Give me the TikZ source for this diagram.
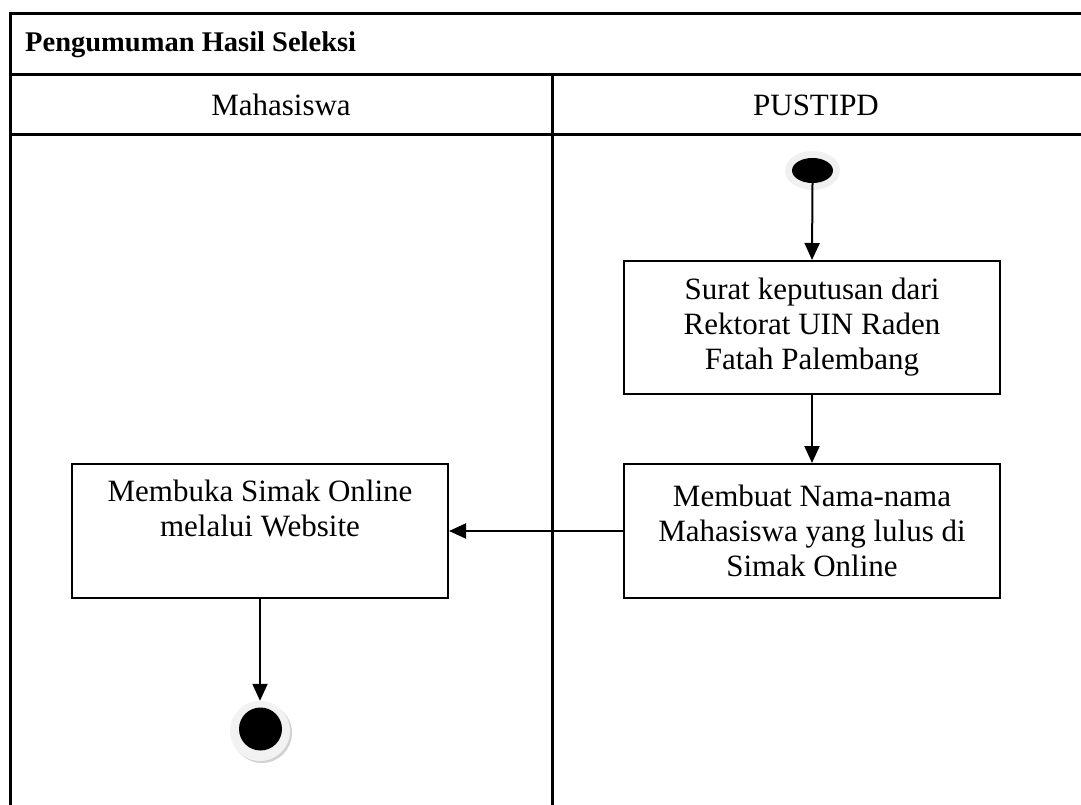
\documentclass[tikz,border=0pt]{standalone}
\usepackage{fontspec}
\setmainfont{Liberation Serif}
\usetikzlibrary{arrows.meta,shapes.geometric}
\tikzset{
  tbl/.style={line width=3pt,black},
  actbox/.style={draw,line width=2pt,rectangle,minimum width=376pt,minimum height=134pt,align=center,inner sep=0pt,font=\fontsize{31}{35}\selectfont},
  flow/.style={line width=2pt,-{Triangle[length=17pt,width=15pt]}},
  hdr/.style={font=\fontsize{31}{35}\selectfont,inner sep=0pt}
}
\begin{document}
\begin{tikzpicture}[x=1pt,y=-1pt]
\useasboundingbox (0,0) rectangle (1081,805);
% table
\draw[tbl] (10,805) -- (10,14) -- (1081,14);
\draw[tbl] (10,75) -- (1081,75);
\draw[tbl] (10,135) -- (1081,135);
\draw[tbl] (552,75) -- (552,805);
\node[font=\bfseries\fontsize{28.5}{33}\selectfont,anchor=west,inner sep=0pt] (title) at (25,45) {Pengumuman Hasil Seleksi};
\node[hdr] (h1) at (281,105) {Mahasiswa};
\node[hdr] (h2) at (816,105) {PUSTIPD};
% start
\fill[gray!12] (812.5,170.5) ellipse [x radius=27.5pt,y radius=19.5pt];
\node[ellipse,fill=black,minimum width=41pt,minimum height=25pt,inner sep=0pt] (start) at (812.5,170.5) {};
% boxes
\node[actbox,minimum height=133pt] (b1) at (812,327.5) {Surat keputusan dari\\Rektorat UIN Raden\\Fatah Palembang};
\node[actbox] (b2) at (812,531) {Membuat Nama-nama\\Mahasiswa yang lulus di\\Simak Online};
\node[actbox] (b3) at (260,531) {Membuka Simak Online\\melalui Website\\\strut};
% end
\fill[gray!35] (262,733) circle [radius=30pt];
\node[circle,fill=gray!10,minimum size=60pt,inner sep=0pt] (endh) at (260,731) {};
\node[circle,fill=black,minimum size=43pt,inner sep=0pt] (end) at (260.5,729) {};
% flows
\draw[flow] (start.south) -- (b1.north);
\draw[flow] (b1.south) -- (b2.north);
\draw[flow] (b2.west) -- (b3.east);
\draw[flow] (b3.south) -- (endh.north);
\end{tikzpicture}
\end{document}
